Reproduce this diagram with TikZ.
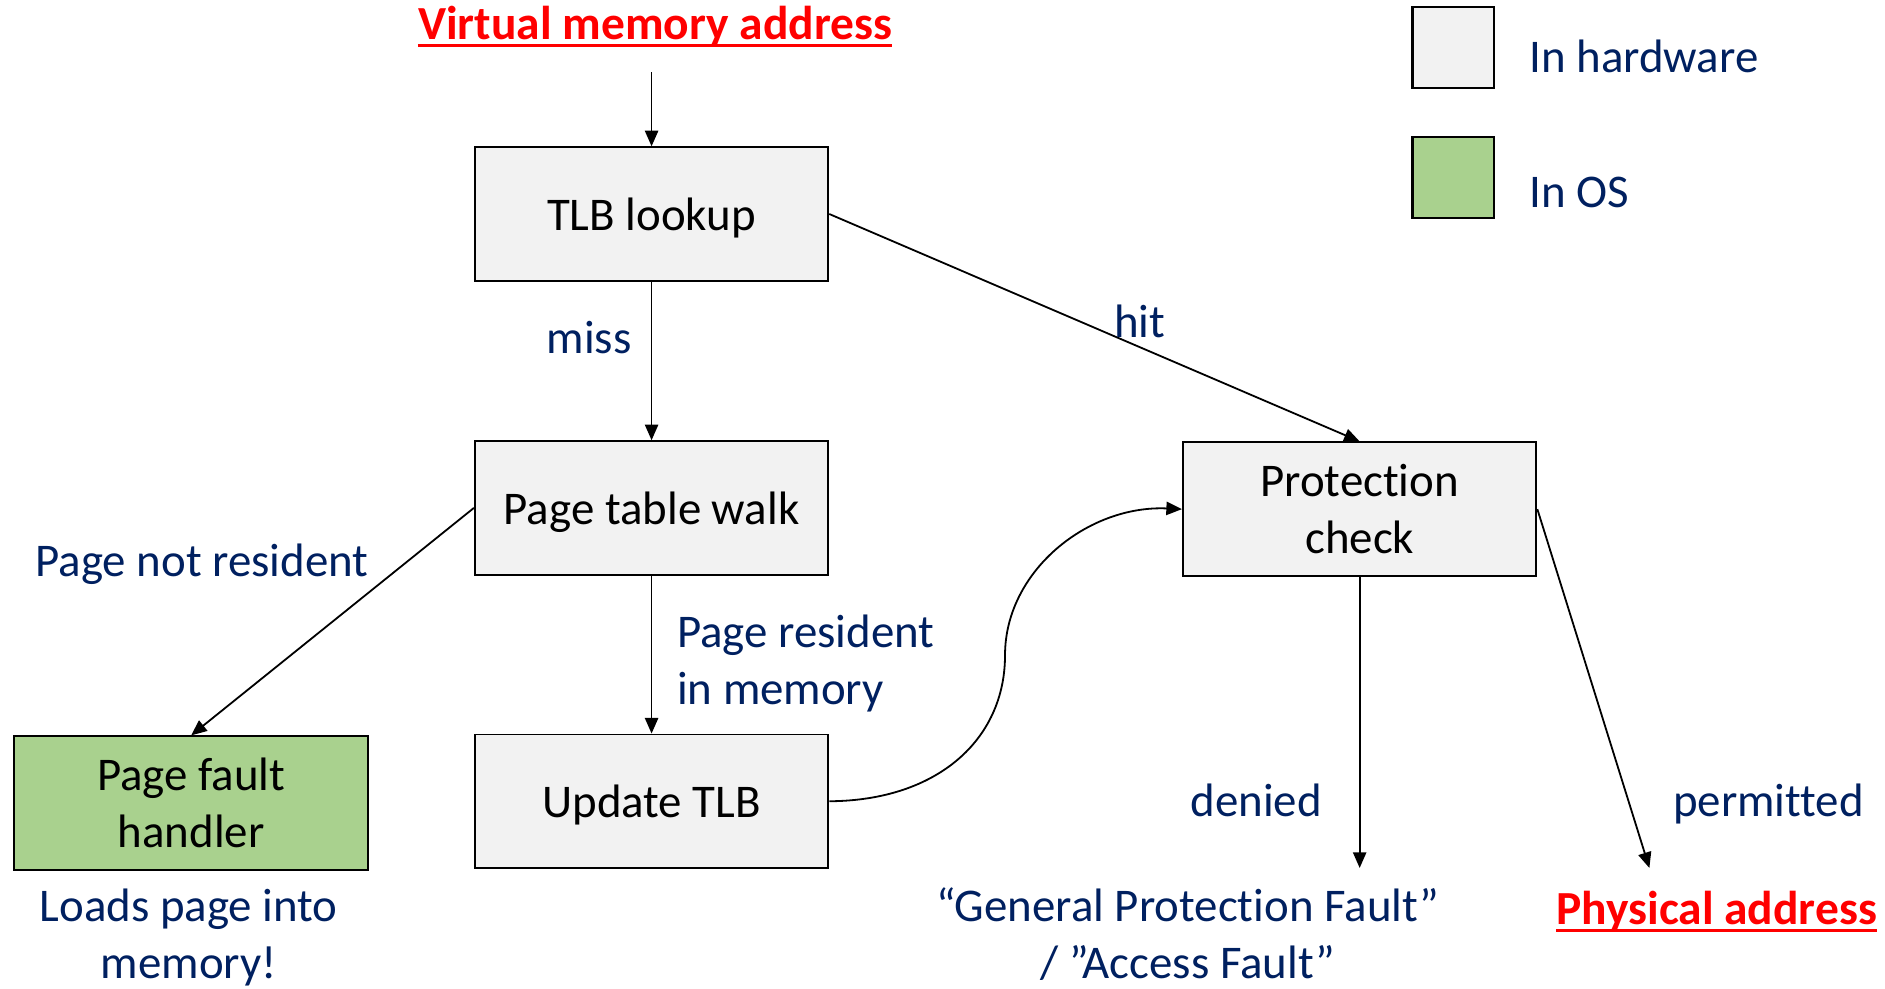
\documentclass[tikz,border=0pt]{standalone}
\usepackage{fontspec}
\setmainfont[Ligatures=NoCommon]{Carlito}
\usetikzlibrary{arrows.meta}
\definecolor{navy}{HTML}{002060}
\definecolor{hwfill}{HTML}{F2F2F2}
\definecolor{osfill}{HTML}{A9D18E}
\definecolor{redtxt}{HTML}{FF0000}
\begin{document}
\begin{tikzpicture}[x=1pt,y=-1pt,
  every node/.style={font=\fontsize{39}{47}\selectfont},
  box/.style={draw=black,line width=1.6pt,minimum width=294pt,minimum height=111pt,align=center,inner sep=0pt},
  hwbox/.style={box,fill=hwfill},
  osbox/.style={box,fill=osfill},
  oneline/.style={text depth=0pt},
  lbl/.style={text=navy,inner sep=0pt,align=center},
  title/.style={text=redtxt,inner sep=0pt,font=\fontsize{39.5}{47}\selectfont\bfseries},
  arr/.style={line width=1.5pt,-{Triangle[width=11pt,length=13pt]}},
  legbox/.style={draw=black,line width=1.8pt,minimum width=68pt,minimum height=67pt,inner sep=0pt}
]
\useasboundingbox (0,0) rectangle (1568,822);

% titles
\node[title] (vma) at (545,22) {Virtual memory address};
\draw[redtxt,line width=2.6pt] ([yshift=-5pt]vma.base west) -- ([yshift=-5pt]vma.base east);
\coordinate (vmaout) at (542,60);

% boxes
\node[hwbox,oneline] (tlb) at (542,178) {TLB lookup};
\node[hwbox,oneline] (ptw) at (542,422.5) {Page table walk};
\node[hwbox,oneline] (utlb) at (542,666.5) {Update TLB};
\node[osbox] (pfh) at (159,668) {Page fault\\handler};
\node[hwbox] (pc) at (1131,423.5) {Protection\\check};

% legend
\node[legbox,fill=hwfill] (leghw) at (1209,39.5) {};
\node[legbox,fill=osfill] (legos) at (1209,147.5) {};
\node[lbl,anchor=west] (leghwt) at (1272,47) {In hardware};
\node[lbl,anchor=west] (legost) at (1272,160) {In OS};

% end points
\coordinate (deniedend) at (1131,722);
\coordinate (permend) at (1372,722);

% connectors
\draw[arr] (vmaout) -- (tlb.north);
\draw[arr] (tlb.south) -- (ptw.north);
\draw[arr] (tlb.east) -- (pc.north);
\draw[arr] (ptw.west) -- (pfh.north);
\draw[arr] (ptw.south) -- (utlb.north);
\draw[arr] (utlb.east) .. controls (780,666) and (836,615) .. (836,545)
   .. controls (836,475) and (905,420) .. (pc.west);
\draw[arr] (pc.south) -- (deniedend);
\draw[arr] (pc.east) -- (permend);

% labels
\node[lbl] (miss) at (490,281) {miss};
\node[lbl] (hit) at (948,267) {hit};
\node[lbl] (pnr) at (168,469) {Page not resident};
\node[lbl,anchor=west,align=left] (pr) at (563,552) {Page resident\\in memory};
\node[lbl] (denied) at (1045,666) {denied};
\node[lbl] (perm) at (1471,669) {permitted};
\node[lbl] (loads) at (157,780) {Loads page into\\memory!};
\node[lbl] (gpf) at (988,777) {“General Protection Fault”\\/ ”Access Fault”};

\node[title] (pa) at (1428,758) {Physical address};
\draw[redtxt,line width=2.6pt] ([yshift=-5pt]pa.base west) -- ([yshift=-5pt]pa.base east);
\end{tikzpicture}
\end{document}
